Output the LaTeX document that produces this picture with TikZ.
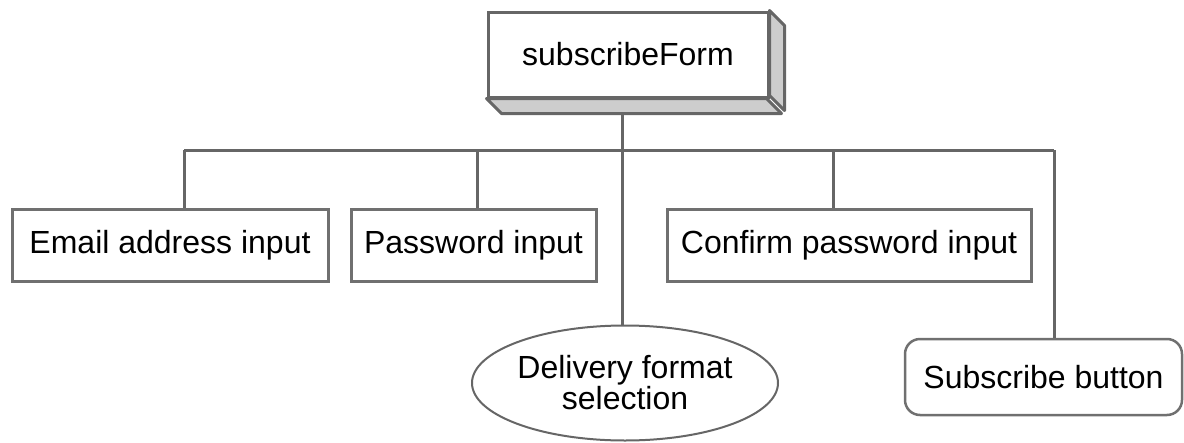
\documentclass[tikz,border=0pt]{standalone}
\usepackage{fontspec}
\setmainfont{Liberation Sans}
\usetikzlibrary{shapes.geometric}
\definecolor{edge}{HTML}{666666}
\definecolor{boxline}{HTML}{707070}
\definecolor{shade}{HTML}{CDCDCD}
\tikzset{
  wire/.style={draw=edge, line width=3pt},
  plainbox/.style={draw=boxline, line width=3pt, fill=white, inner sep=0pt,
    minimum height=72pt, font=\fontsize{32}{38}\selectfont},
  rootbox/.style={plainbox, draw=edge, minimum width=280pt, minimum height=85pt},
  facet/.style={draw=edge, line width=3pt, fill=shade, line join=round},
  oval/.style={ellipse, draw=edge, line width=2pt, fill=white, inner sep=0pt,
    minimum width=306pt, minimum height=115pt, align=center,
    font=\fontsize{32}{31}\selectfont},
  pill/.style={draw=boxline, line width=2.5pt, rounded corners=15pt, fill=white,
    inner sep=0pt, minimum width=277pt, minimum height=76pt,
    font=\fontsize{32}{38}\selectfont}
}
\begin{document}
\begin{tikzpicture}[x=1pt, y=-1pt]
\useasboundingbox (0,0) rectangle (1184,442);

% tap points on the horizontal bus
\coordinate (hub) at (622,150);
\coordinate (t1) at (184,150);
\coordinate (t2) at (477,150);
\coordinate (t4) at (833,150);
\coordinate (t5) at (1054,150);

% root block with its extruded side and bottom faces
\node[rootbox] (root) at (628,54.5) {subscribeForm};
\draw[facet] (root.north east) -- ++(15,15) -- ++(0,85) -- ++(-15,-15) -- cycle;
\draw[facet] (root.south west) -- ++(15,15) -- ++(280,0) -- ++(-15,-15) -- cycle;

% child elements
\node[plainbox, minimum width=316pt] (email) at (170,245) {Email address input};
\node[plainbox, minimum width=245pt] (pass) at (473.5,245) {Password input};
\node[plainbox, minimum width=364pt] (confirm) at (849,245) {Confirm password input};
\node[oval] (delivery) at (625,383) {Delivery format\\selection};
\node[pill] (button) at (1043.5,377) {Subscribe button};

% connectors
\draw[wire] ([yshift=-15pt]root.south -| hub) -- (hub);
\draw[wire] (t1) -- (t5);
\draw[wire] (t1) -- (t1 |- email.north);
\draw[wire] (t2) -- (t2 |- pass.north);
\draw[wire] (hub) -- (hub |- delivery.north);
\draw[wire] (t4) -- (t4 |- confirm.north);
\draw[wire] (t5) -- (t5 |- button.north);
\end{tikzpicture}
\end{document}
